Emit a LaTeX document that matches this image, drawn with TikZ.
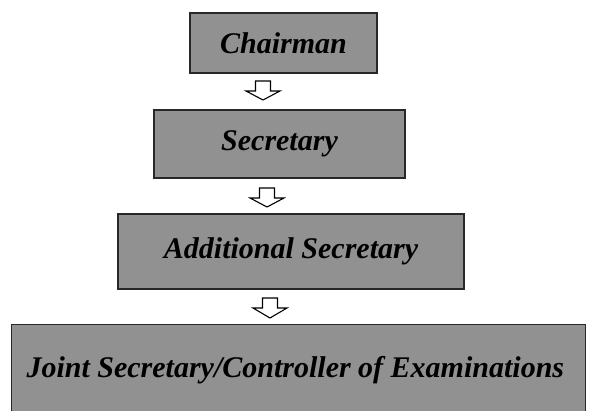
\documentclass[tikz,border=0pt]{standalone}
\usepackage{fontspec}
\setmainfont{Liberation Serif}
\definecolor{boxgray}{RGB}{145,145,145}
\definecolor{edge}{RGB}{40,40,40}
\tikzset{
  rolebox/.style={draw=edge, line width=1.3pt, fill=boxgray, inner sep=0pt,
    font=\fontsize{30}{34}\selectfont\bfseries\itshape},
  hollowarrow/.style={draw=black, line width=1.1pt, fill=white, line join=miter}
}
\newcommand{\downarrowat}[3]{% x center, y top, y bottom
  \draw[hollowarrow] (#1-7.5,-#2) -- (#1+7.5,-#2) -- (#1+7.5,-#2-10) -- (#1+17,-#2-10)
     -- (#1,-#3) -- (#1-17,-#2-10) -- (#1-7.5,-#2-10) -- cycle;}
\begin{document}
\begin{tikzpicture}[x=1pt,y=1pt]
\useasboundingbox (0,0) rectangle (589,-410);
\node[rolebox, minimum width=187pt, minimum height=60pt] (b1) at (283.5,-43) {Chairman};
\node[rolebox, minimum width=251pt, minimum height=68pt] (b2) at (279.5,-144) {Secretary};
\node[rolebox, minimum width=346pt, minimum height=75pt] (b3) at (291,-251.5) {Additional Secretary};
\node[rolebox, minimum width=574pt, minimum height=100pt, anchor=north west] (b4) at (11,-324) {};
\node[font=\fontsize{30}{34}\selectfont\bfseries\itshape, anchor=west] (t4) at (23,-370) {Joint Secretary/Controller of Examinations};
\downarrowat{263}{81}{100}
\downarrowat{267}{188}{207}
\downarrowat{270}{298}{318}
\end{tikzpicture}
\end{document}
